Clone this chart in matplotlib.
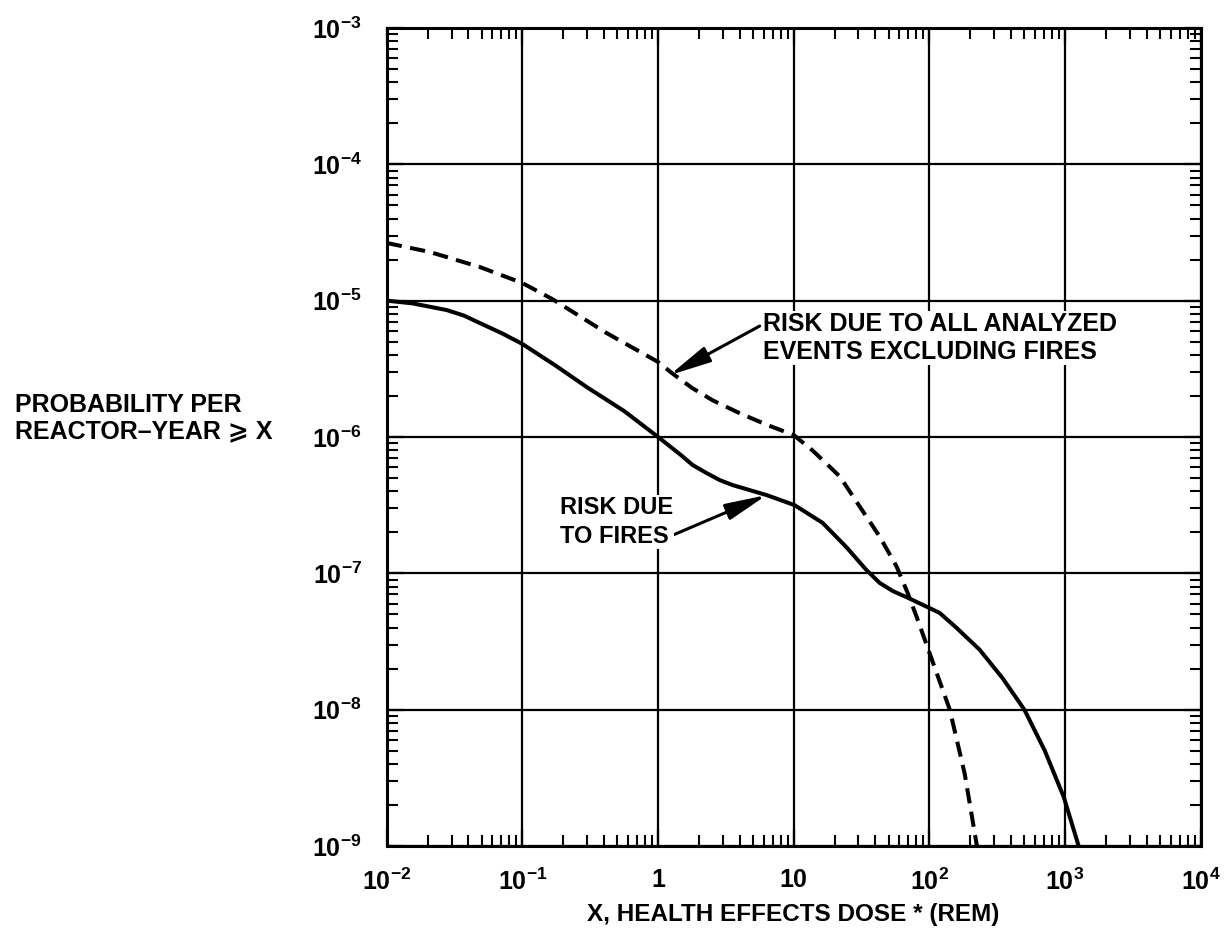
import numpy as np
import matplotlib
matplotlib.use("Agg")
import matplotlib.pyplot as plt
import matplotlib.font_manager as fm
from matplotlib.ticker import LogLocator, FixedFormatter, FixedLocator, NullFormatter

# 原图是窄体粗体；没有窄体就用 Liberation Sans（Arial 度量），字号相应调小
FONT = "DejaVu Sans"
for name in ["Liberation Sans", "Roboto"]:
    try:
        fm.findfont(name, fallback_to_default=False)
        FONT = name
        break
    except Exception:
        pass
plt.rcParams["font.family"] = [FONT, "DejaVu Sans"]
plt.rcParams["font.weight"] = "bold"
plt.rcParams["mathtext.fontset"] = "custom"
plt.rcParams["mathtext.rm"] = f"{FONT}:bold"
plt.rcParams["mathtext.it"] = f"{FONT}:bold"
plt.rcParams["mathtext.bf"] = f"{FONT}:bold"
plt.rcParams["mathtext.default"] = "rm"

# 曲线数据（从图上读出的对数坐标）
fire_log_dose = [-2.0, -1.81, -1.558, -1.43, -1.315, -1.15, -1.0, -0.75, -0.526, -0.25, 0.0,
                 0.169, 0.255, 0.358, 0.454, 0.55, 0.8, 1.006, 1.213, 1.39, 1.46, 1.537, 1.633,
                 1.73, 1.832, 2.075, 2.2, 2.37, 2.54, 2.7, 2.85, 2.99, 3.1]
fire_log_prob = [-5.0, -5.02, -5.069, -5.11, -5.164, -5.24, -5.318, -5.48, -5.634, -5.81, -6.0,
                 -6.133, -6.206, -6.265, -6.316, -6.353, -6.426, -6.5, -6.63, -6.81, -6.89, -6.977, -7.07,
                 -7.13, -7.175, -7.29, -7.4, -7.56, -7.77, -8.0, -8.3, -8.64, -9.0]

other_log_dose = [-2.0, -1.683, -1.315, -1.0, -0.777, -0.379, 0.0, 0.1, 0.25, 0.4, 0.6, 0.8,
                  1.0, 1.14, 1.34, 1.486, 1.633, 1.758, 1.84, 1.906, 2.01, 2.15, 2.26, 2.35]
other_log_prob = [-4.577, -4.643, -4.753, -4.871, -4.99, -5.238, -5.45, -5.53, -5.64, -5.73, -5.825, -5.91,
                  -5.986, -6.1, -6.29, -6.51, -6.73, -6.95, -7.145, -7.32, -7.61, -8.0, -8.47, -9.0]

x_ticks = [1e-2, 1e-1, 1, 10, 1e2, 1e3, 1e4]
x_tick_labels = [r"$10^{-2}$", r"$10^{-1}$", "1", "10", r"$10^{2}$", r"$10^{3}$", r"$10^{4}$"]
y_ticks = [1e-9, 1e-8, 1e-7, 1e-6, 1e-5, 1e-4, 1e-3]
y_tick_labels = [r"$10^{-9}$", r"$10^{-8}$", r"$10^{-7}$", r"$10^{-6}$", r"$10^{-5}$", r"$10^{-4}$", r"$10^{-3}$"]

fig = plt.figure(figsize=(12.24, 9.42), dpi=100)
ax = fig.add_axes([0.316, 0.1019, 0.665, 0.8684])

ax.plot(10 ** np.array(fire_log_dose), 10 ** np.array(fire_log_prob),
        color="black", lw=2.9, solid_joinstyle="round", zorder=3)
ax.plot(10 ** np.array(other_log_dose), 10 ** np.array(other_log_prob),
        color="black", lw=2.9, linestyle=(0, (3.8, 2.1)), zorder=3)

ax.set_xscale("log")
ax.set_yscale("log")
ax.set_xlim(1e-2, 1e4)
ax.set_ylim(1e-9, 1e-3)

ax.xaxis.set_major_locator(FixedLocator(x_ticks))
ax.xaxis.set_major_formatter(FixedFormatter(x_tick_labels))
ax.yaxis.set_major_locator(FixedLocator(y_ticks))
ax.yaxis.set_major_formatter(FixedFormatter(y_tick_labels))
ax.xaxis.set_minor_locator(LogLocator(base=10, subs=np.arange(2, 10), numticks=20))
ax.yaxis.set_minor_locator(LogLocator(base=10, subs=np.arange(2, 10), numticks=20))
ax.xaxis.set_minor_formatter(NullFormatter())
ax.yaxis.set_minor_formatter(NullFormatter())

ax.tick_params(which="both", direction="in", top=True, right=True, color="black")
ax.tick_params(which="major", length=12, width=1.6, labelsize=18)
ax.tick_params(which="minor", length=8, width=1.5)
ax.tick_params(axis="x", which="major", pad=16)
ax.tick_params(axis="y", which="major", pad=18)

ax.grid(True, which="major", color="black", lw=1.6)
for sp in ax.spines.values():
    sp.set_linewidth(2.2)

box = dict(facecolor="white", edgecolor="none", pad=1)
arrow = dict(arrowstyle="-|>,head_length=1.4,head_width=0.28", color="black",
             lw=2.2, mutation_scale=18, shrinkA=0, shrinkB=0)

ax.annotate("", xy=(10 ** 0.085, 10 ** -5.546), xytext=(10 ** 0.749, 10 ** -5.186),
            arrowprops=arrow, zorder=4)
ax.text(10 ** 0.771, 10 ** -5.274, "RISK DUE TO ALL ANALYZED\nEVENTS EXCLUDING FIRES",
        fontsize=18, fontweight="bold", ha="left", va="center", linespacing=1.18,
        bbox=box, zorder=5)

ax.annotate("", xy=(10 ** 0.80, 10 ** -6.426), xytext=(10 ** 0.108, 10 ** -6.72),
            arrowprops=arrow, zorder=4)
ax.text(10 ** -0.725, 10 ** -6.624, "RISK DUE\nTO FIRES",
        fontsize=17, fontweight="bold", ha="left", va="center", linespacing=1.3,
        bbox=box, zorder=5)

fig.text(0.0123, 0.556, "PROBABILITY PER\nREACTOR\u2013YEAR \u2a7e X", fontsize=18,
         fontweight="bold", ha="left", va="center", linespacing=1.12)
fig.text(0.648, 0.0287, "X, HEALTH EFFECTS DOSE * (REM)", fontsize=17.5,
         fontweight="bold", ha="center", va="center")

fig.savefig("out.png", dpi=100, facecolor="white")
plt.close(fig)
